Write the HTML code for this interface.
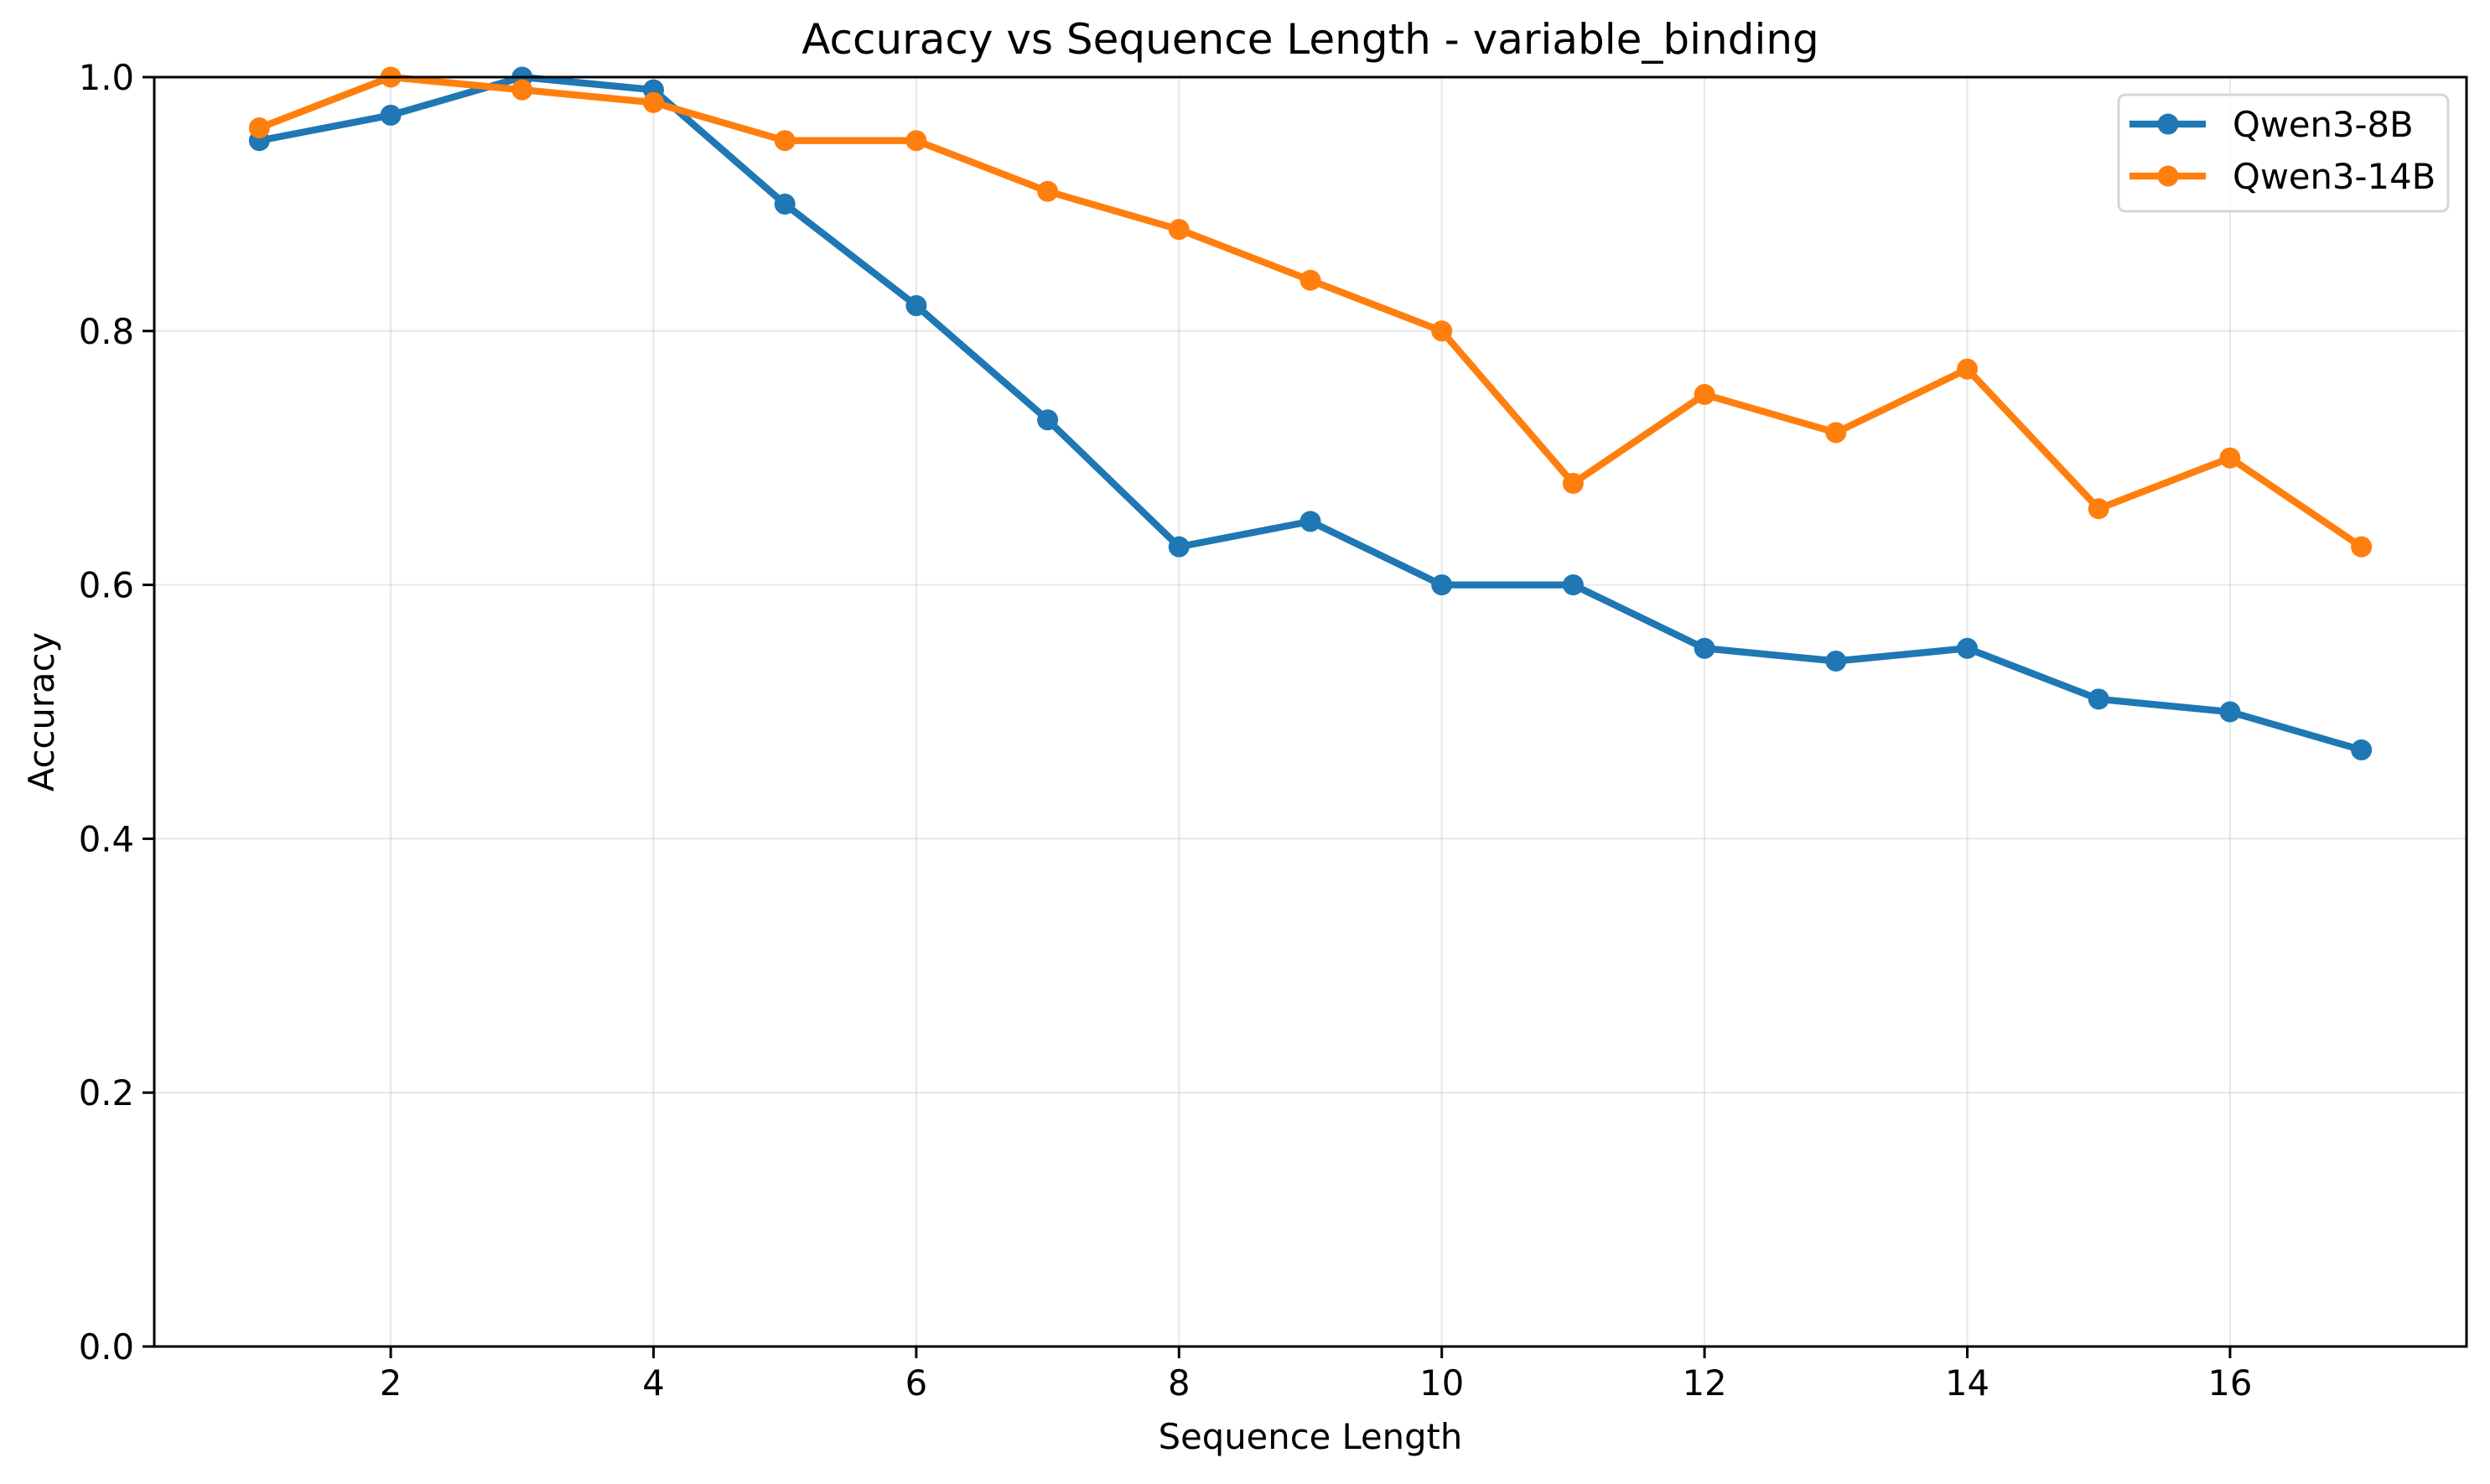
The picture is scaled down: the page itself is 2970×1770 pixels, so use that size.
<!DOCTYPE html>
<html><head><meta charset="utf-8"><style>
body{margin:0;background:#fff}
svg text{font-family:"DejaVu Sans","Liberation Sans",sans-serif;fill:#000}
</style></head><body>
<svg id="chart" width="2970" height="1765" xmlns="http://www.w3.org/2000/svg">
<rect width="2970" height="1765" fill="#fff"/>
<g id="grid"></g><g id="series"></g><g id="axes"></g>
</svg>
<script>
const xValues=[1,2,3,4,5,6,7,8,9,10,11,12,13,14,15,16,17];
const qwen8b=[0.95,0.97,1.0,0.99,0.90,0.82,0.73,0.63,0.65,0.60,0.60,0.55,0.54,0.55,0.51,0.50,0.47];
const qwen14b=[0.96,1.0,0.99,0.98,0.95,0.95,0.91,0.88,0.84,0.80,0.68,0.75,0.72,0.77,0.66,0.70,0.63];
const xTicks=[2,4,6,8,10,12,14,16];
const yTicks=[0.0,0.2,0.4,0.6,0.8,1.0];
const L=184,R=2942,T=92,B=1606,X0=0.2,X1=17.8,Y0=0,Y1=1;
const sx=v=>L+(v-X0)/(X1-X0)*(R-L);
const sy=v=>B-(v-Y0)/(Y1-Y0)*(B-T);
const NS='http://www.w3.org/2000/svg';
function mk(tag,attrs,parent,txt){const e=document.createElementNS(NS,tag);for(const k in attrs)e.setAttribute(k,attrs[k]);if(txt!==undefined)e.textContent=txt;parent.appendChild(e);return e;}
const grid=document.getElementById('grid'),ser=document.getElementById('series'),ax=document.getElementById('axes');
xTicks.forEach(t=>{const g=mk('line',{x1:sx(t),x2:sx(t),y1:T,y2:B,stroke:'#b0b0b0','stroke-opacity':0.3,'stroke-width':2},grid);


const tk=mk('line',{x1:sx(t),x2:sx(t),y1:B,y2:B+14,stroke:'#000','stroke-width':3},ax);


const lb=mk('text',{x:sx(t),y:B+58,'font-size':41.7,'text-anchor':'middle'},ax,String(t));

});
yTicks.forEach(t=>{const g=mk('line',{x1:L,x2:R,y1:sy(t),y2:sy(t),stroke:'#b0b0b0','stroke-opacity':0.3,'stroke-width':2},grid);


const tk=mk('line',{x1:L-14,x2:L,y1:sy(t),y2:sy(t),stroke:'#000','stroke-width':3},ax);


const lb=mk('text',{x:L-24,y:sy(t)+15,'font-size':41.7,'text-anchor':'end'},ax,t.toFixed(1));

});
function series(vals,color,name){
const p=mk('polyline',{points:xValues.map((x,i)=>sx(x)+','+sy(vals[i])).join(' '),fill:'none',stroke:color,'stroke-width':8.3,'stroke-linejoin':'round','stroke-linecap':'square'},ser);


xValues.forEach((x,i)=>{const c=mk('circle',{cx:sx(x),cy:sy(vals[i]),r:12.5,fill:color},ser);

});}
series(qwen8b,'#1f77b4','qwen3-8b');
series(qwen14b,'#ff7f0e','qwen3-14b');
const fr=mk('rect',{x:L,y:T,width:R-L,height:B-T,fill:'none',stroke:'#000','stroke-width':3},ax);


const ti=mk('text',{x:(L+R)/2,y:64,'font-size':50,'text-anchor':'middle'},ax,'Accuracy vs Sequence Length - variable_binding');


const xl=mk('text',{x:(L+R)/2,y:1728,'font-size':41.7,'text-anchor':'middle'},ax,'Sequence Length');


const yl=mk('text',{x:0,y:0,'font-size':41.7,'text-anchor':'middle',transform:`translate(64,${(T+B)/2}) rotate(-90)`},ax,'Accuracy');


const lg=mk('g',{},ax);


mk('rect',{x:2527,y:113,width:393,height:139,rx:8,fill:'#fff','fill-opacity':0.8,stroke:'#d6d6d6','stroke-width':3},lg);
[['Qwen3-8B','#1f77b4',148],['Qwen3-14B','#ff7f0e',210]].forEach(([n,c,y])=>{
const e=mk('g',{},lg);


mk('line',{x1:2540,x2:2631,y1:y,y2:y,stroke:c,'stroke-width':8.3},e);
mk('circle',{cx:2586,cy:y,r:12.5,fill:c},e);
mk('text',{x:2663,y:y+15,'font-size':41.7},e,n);});
</script>
</body></html>
